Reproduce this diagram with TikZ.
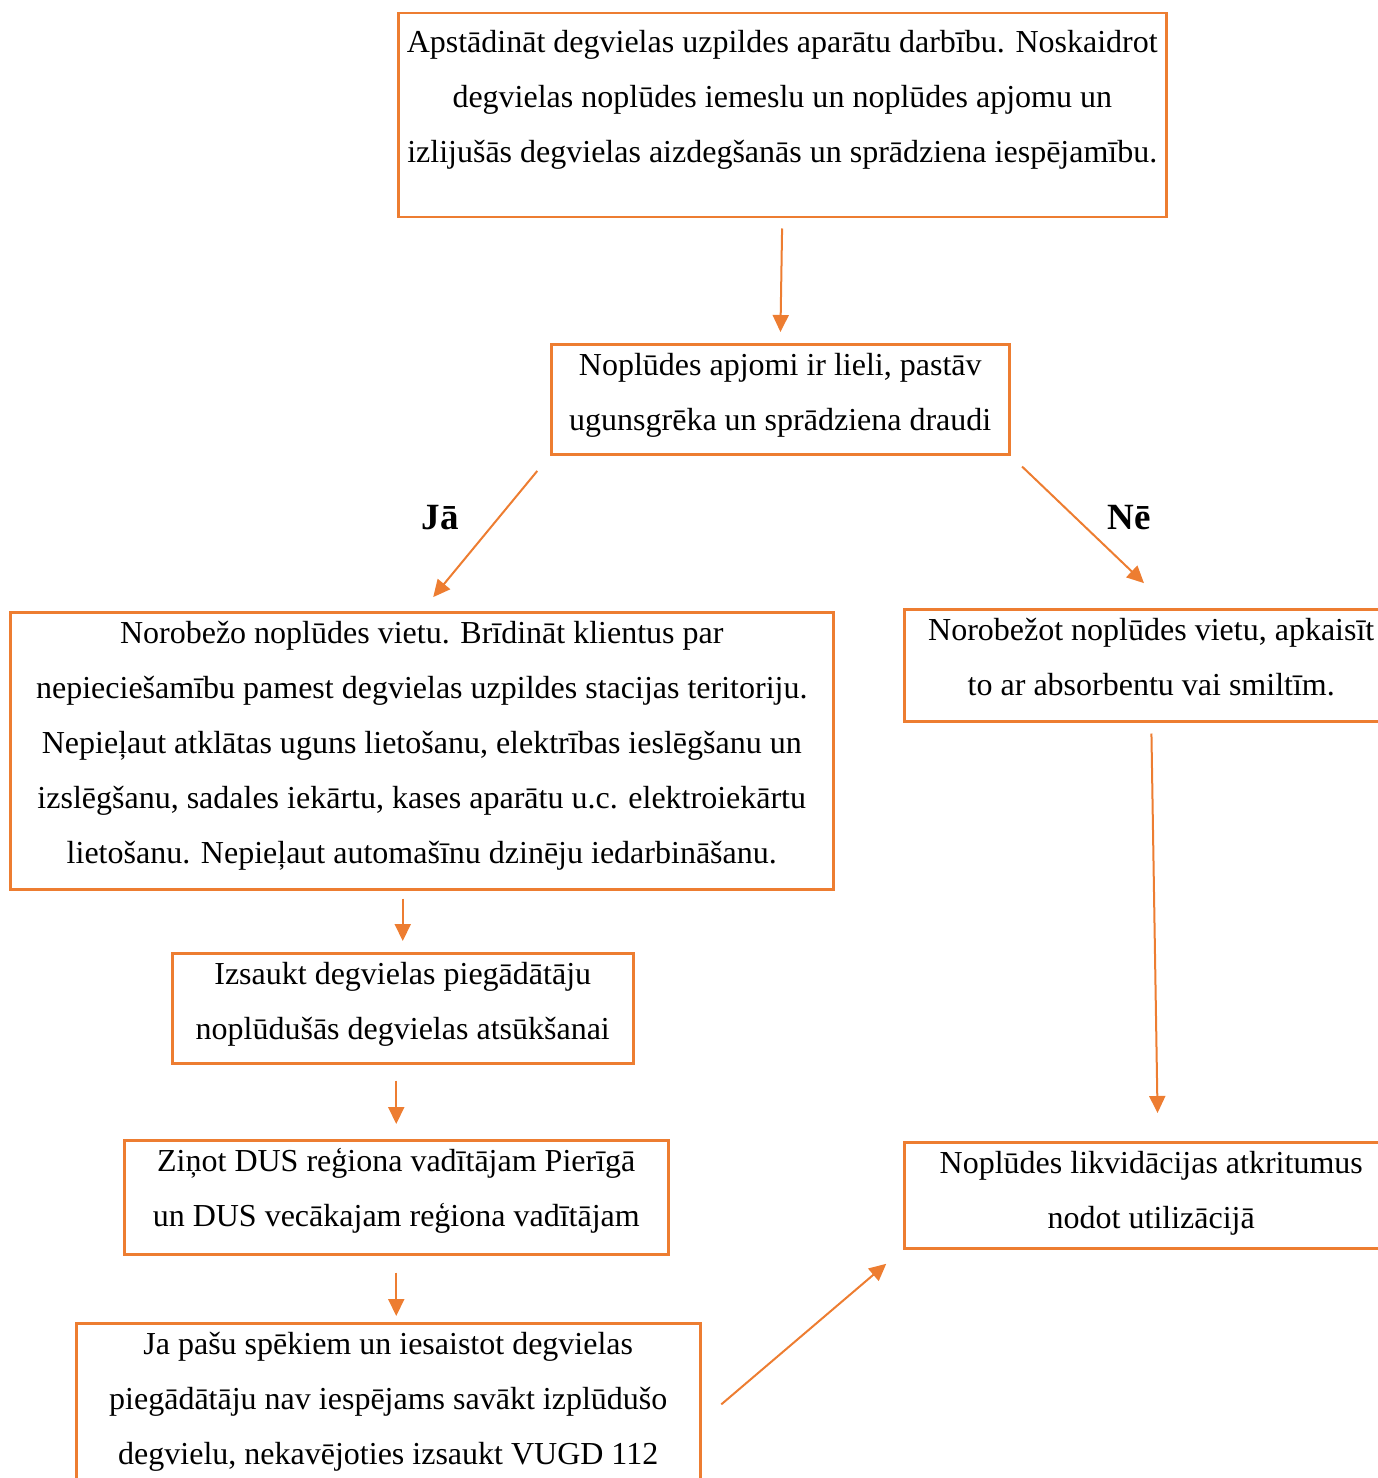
\documentclass[tikz,border=0pt]{standalone}
\usepackage{fontspec}
\setmainfont{Liberation Serif}
\usetikzlibrary{arrows.meta}
\definecolor{dusorange}{RGB}{237,125,49}
\newlength{\px}
\setlength{\px}{0.4pt}
% text of a box: [strut] {height} {width} {lines}
\newcommand{\boxtext}[4][31]{\parbox[c][#2\px][t]{#3\px}{\centering\rule{0pt}{#1\px}#4\par}}
\tikzset{
  box/.style={draw=dusorange, line width=1pt, inner sep=0pt, anchor=north west,
    font=\fontsize{12.8}{22}\selectfont},
  arr/.style={draw=dusorange, line width=0.8pt, -{Triangle[length=6.8pt,width=6.4pt]}},
  answer/.style={font=\fontsize{14.8}{18}\selectfont\bfseries}
}
\begin{document}
\begin{tikzpicture}[x=0.4pt,y=-0.4pt]
	\useasboundingbox (0,0) rectangle (1378,1478);
	\clip (0,0) rectangle (1378,1478);

	% the boxes
	\node[box] (stop) at (397,12) {\boxtext[39]{204}{768}{Apstādināt degvielas uzpildes aparātu darbību. Noskaidrot\\degvielas noplūdes iemeslu un noplūdes apjomu un\\izlijušās degvielas aizdegšanās un sprādziena iespējamību.}};
	\node[box] (apjomi) at (550,343) {\boxtext{110}{458}{Noplūdes apjomi ir lieli, pastāv\\ugunsgrēka un sprādziena draudi}};
	\node[box] (norobezo) at (9,611) {\boxtext{277}{823}{Norobežo noplūdes vietu. Brīdināt klientus par\\nepieciešamību pamest degvielas uzpildes stacijas teritoriju.\\Nepieļaut atklātas uguns lietošanu, elektrības ieslēgšanu un\\izslēgšanu, sadales iekārtu, kases aparātu u.c. elektroiekārtu\\lietošanu. Nepieļaut automašīnu dzinēju iedarbināšanu.}};
	\node[box] (apkaisit) at (903,608) {\boxtext{112}{494}{Norobežot noplūdes vietu, apkaisīt\\to ar absorbentu vai smiltīm.}};
	\node[box] (piegadatajs) at (171,952) {\boxtext{110}{461}{Izsaukt degvielas piegādātāju\\noplūdušās degvielas atsūkšanai}};
	\node[box] (zinot) at (123,1139) {\boxtext{114}{544}{Ziņot DUS reģiona vadītājam Pierīgā\\un DUS vecākajam reģiona vadītājam}};
	\node[box] (vugd) at (75,1322) {\boxtext{196}{624}{Ja pašu spēkiem un iesaistot degvielas\\piegādātāju nav iespējams savākt izplūdušo\\degvielu, nekavējoties izsaukt VUGD 112}};
	\node[box] (utilizacija) at (903,1141) {\boxtext{106}{494}{Noplūdes likvidācijas atkritumus\\nodot utilizācijā}};

	% answers
	\node[answer] (ja) at (440,518) {Jā};
	\node[answer] (ne) at (1129,518) {Nē};
	\coordinate (nebox) at (1170,608);

	% arrows
	\draw[arr, shorten <=10\px, shorten >=11\px] (stop.south) -- (apjomi.north);
	\draw[arr, shorten <=20\px, shorten >=18\px] (apjomi.south west) -- (norobezo.north);
	\draw[arr, shorten <=16\px, shorten >=36\px] (apjomi.south east) -- (nebox);
	\draw[arr, shorten <=8\px, shorten >=11\px] (norobezo.south -| piegadatajs.north) -- (piegadatajs.north);
	\draw[arr, shorten <=16\px, shorten >=15\px] (piegadatajs.south -| zinot.north) -- (zinot.north);
	\draw[arr, shorten <=17\px, shorten >=6\px] (zinot.south) -- (zinot.south |- vugd.north);
	\draw[arr, shorten <=11\px, shorten >=28\px] (apkaisit.south) -- (utilizacija.north -| 1158,0);
	\draw[arr, shorten <=26\px, shorten >=22\px] (vugd.east) -- (utilizacija.south west);
\end{tikzpicture}
\end{document}
